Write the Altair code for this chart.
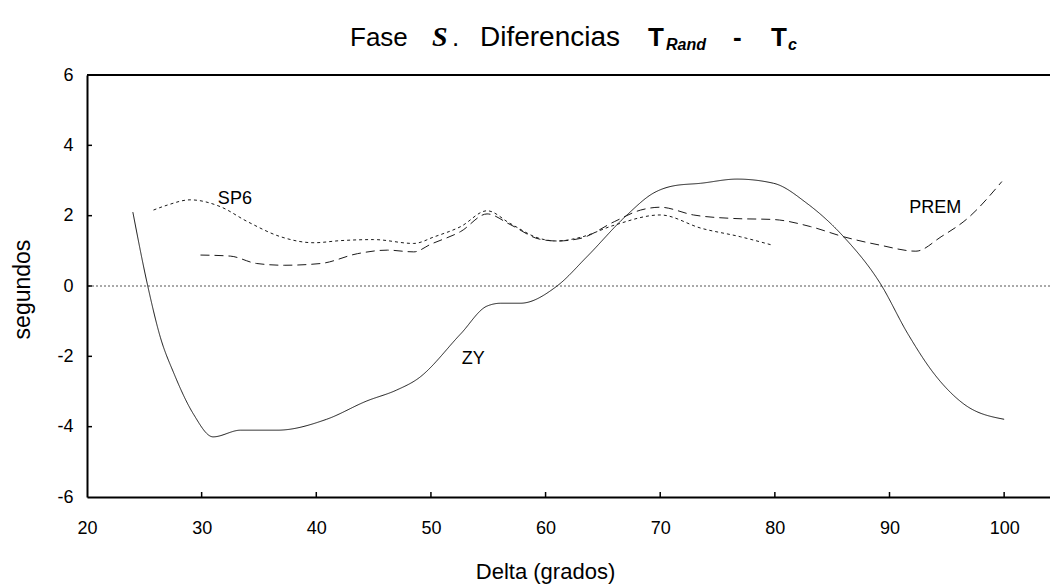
import altair as alt
import pandas as pd

# Curves: travel-time differences T_Rand - T_c (s) against epicentral distance (deg)
zy_x = [24.0, 25.3, 26.4, 27.6, 29.3, 31.0, 33.4, 36.6, 40.9, 44.4, 47.0, 48.8, 52.6, 54.9,
        56.1, 57.8, 61.0, 63.6, 67.1, 69.4, 71.2, 73.5, 76.7, 79.9, 82.8, 86.0, 89.2, 91.6,
        93.9, 96.5, 100.0]
zy_y = [2.1, 0.0, -1.46, -2.5, -3.65, -4.29, -4.1, -4.1, -3.79, -3.27, -2.96, -2.65, -1.36, -0.57,
        -0.49, -0.49, 0.0, 0.83, 2.02, 2.64, 2.85, 2.92, 3.04, 2.92, 2.35, 1.4, 0.07, -1.36,
        -2.5, -3.36, -3.79]

sp6_x = [25.8, 27.0, 29.0, 31.6, 34.0, 36.9, 39.8, 42.1, 45.0, 48.5, 50.3, 52.6, 54.9, 56.9,
         59.5, 61.0, 63.0, 66.0, 70.0, 73.6, 77.0, 79.8]
sp6_y = [2.16, 2.3, 2.45, 2.26, 1.83, 1.4, 1.23, 1.29, 1.32, 1.21, 1.4, 1.69, 2.14, 1.78,
         1.35, 1.28, 1.38, 1.73, 2.02, 1.64, 1.4, 1.16]

prem_x = [29.9, 32.5, 34.8, 37.2, 40.4, 43.6, 46.2, 48.5, 50.0, 52.6, 54.9, 56.9, 59.5, 61.0,
          63.0, 66.0, 68.3, 70.0, 72.9, 76.4, 79.9, 83.1, 86.0, 89.2, 92.3, 94.5, 96.8, 99.8]
prem_y = [0.88, 0.85, 0.64, 0.59, 0.64, 0.92, 1.02, 0.97, 1.19, 1.55, 2.05, 1.75, 1.33, 1.28,
          1.35, 1.83, 2.16, 2.24, 2.02, 1.92, 1.89, 1.69, 1.4, 1.16, 0.99, 1.4, 1.92, 2.97]

series_names = ["ZY", "SP6", "PREM"]
series_dash = [[1, 0], [3, 3], [9, 5]]

# Curve labels (name, delta, seconds)
label_text = ["SP6", "PREM", "ZY"]
label_x = [32.9, 94.0, 53.7]
label_y = [2.47, 2.22, -2.08]

x_tick_values = [20, 30, 40, 50, 60, 70, 80, 90, 100]
y_tick_values = [-6, -4, -2, 0, 2, 4, 6]

W, H = 963, 422
SANS = "Liberation Sans, Arial"
SERIF = "Liberation Serif, Times New Roman"

rows = []
for name, xs, ys in [("ZY", zy_x, zy_y), ("SP6", sp6_x, sp6_y), ("PREM", prem_x, prem_y)]:
    for i, (a, b) in enumerate(zip(xs, ys)):
        rows.append({"serie": name, "delta": a, "dt": b, "orden": i})
df = pd.DataFrame(rows)

x_scale = alt.Scale(domain=[20, 104], nice=False, zero=False)
y_scale = alt.Scale(domain=[-6, 6], nice=False, zero=False)

lines = alt.Chart(df).mark_line(interpolate="monotone", strokeWidth=1, color="#1a1a1a").encode(
    x=alt.X("delta:Q", scale=x_scale,
            axis=alt.Axis(values=x_tick_values, title="Delta (grados)", ticks=False, grid=False,
                          domainColor="black", domainWidth=2, labelFont=SANS, labelFontSize=18,
                          labelColor="black", labelPadding=22, labelFlush=False,
                          labelExpr="'' + datum.value",
                          titleFont=SANS, titleFontSize=22, titleFontWeight="normal",
                          titleColor="black", titleX=458, titleY=74, titleBaseline="middle")),
    y=alt.Y("dt:Q", scale=y_scale,
            axis=alt.Axis(values=y_tick_values, title="segundos", ticks=False, grid=False,
                          domainColor="black", domainWidth=2, labelFont=SANS, labelFontSize=18,
                          labelColor="black", labelPadding=14, labelFlush=False,
                          labelExpr="'' + datum.value",
                          titleFont=SANS, titleFontSize=23, titleFontWeight="normal",
                          titleColor="black", titleX=-65, titleY=214, titleAngle=-90,
                          titleAlign="center", titleBaseline="middle")),
    detail="serie:N",
    strokeDash=alt.StrokeDash("serie:N", scale=alt.Scale(domain=series_names, range=series_dash),
                              legend=None),
    order="orden:Q",
)

zero_line = alt.Chart(pd.DataFrame({"cero": [0]})).mark_rule(
    strokeDash=[2, 2], color="#555", strokeWidth=1
).encode(y=alt.Y("cero:Q", scale=y_scale))

top_border = alt.Chart(pd.DataFrame({"k": [0]})).mark_rule(color="black", strokeWidth=2).encode(
    x=alt.value(0), x2=alt.value(W), y=alt.value(0)
)

x_ticks = alt.Chart(pd.DataFrame({"t": x_tick_values[1:]})).mark_rule(
    color="black", strokeWidth=1.5
).encode(x=alt.X("t:Q", scale=x_scale), y=alt.value(H), y2=alt.value(H - 5))

y_ticks = alt.Chart(pd.DataFrame({"t": y_tick_values[1:-1]})).mark_rule(
    color="black", strokeWidth=1.5
).encode(y=alt.Y("t:Q", scale=y_scale), x=alt.value(0), x2=alt.value(5))

labels = alt.Chart(pd.DataFrame({"txt": label_text, "x": label_x, "y": label_y})).mark_text(
    font=SANS, fontSize=18, color="black"
).encode(x=alt.X("x:Q", scale=x_scale), y=alt.Y("y:Q", scale=y_scale), text="txt:N")

# Title built from pieces with mixed styles
title_parts = [
    ("Fase", 263, -37, SANS, 26, "normal", "normal"),
    ("S", 345, -37, SERIF, 28, "bold", "italic"),
    (".", 365, -37, SANS, 26, "normal", "normal"),
    ("Diferencias", 393, -37, SANS, 28, "normal", "normal"),
    ("T", 561, -37, SANS, 26, "bold", "normal"),
    ("Rand", 579, -30, SANS, 16, "bold", "italic"),
    ("-", 646, -37, SANS, 26, "bold", "normal"),
    ("T", 684, -37, SANS, 26, "bold", "normal"),
    ("c", 701, -30, SANS, 16, "bold", "italic"),
]
title_layers = []
for txt, tx, ty, fnt, fs, fw, fst in title_parts:
    title_layers.append(
        alt.Chart(pd.DataFrame({"txt": [txt]})).mark_text(
            font=fnt, fontSize=fs, fontWeight=fw, fontStyle=fst, align="left",
            baseline="middle", color="black"
        ).encode(x=alt.value(tx), y=alt.value(ty), text="txt:N")
    )

chart = alt.layer(zero_line, lines, top_border, x_ticks, y_ticks, labels, *title_layers).properties(
    width=W, height=H,
    autosize=alt.AutoSizeParams(type="none"),
    padding={"left": 87, "top": 75, "right": 0, "bottom": 90},
).configure_view(stroke=None).configure(background="white")

chart.save("out.html", embed_options={"renderer": "svg", "actions": False})
